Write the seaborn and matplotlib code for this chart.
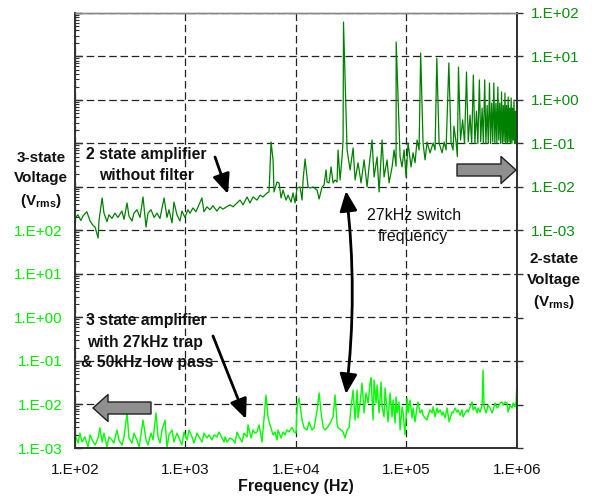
import matplotlib
matplotlib.use("Agg")
import matplotlib.pyplot as plt
import seaborn as sns
import numpy as np
from matplotlib.ticker import FixedLocator, FuncFormatter, LogLocator, NullLocator, NullFormatter
from matplotlib.patches import FancyArrowPatch

# ---------------- data ----------------
# 2-state amplifier without filter (right axis)
freq_2state = [100, 106, 113, 118, 128, 137, 146, 152, 162, 165, 176, 183, 195, 203, 216, 230, 245, 266, 278, 296,
               308, 328, 342, 364, 388, 413, 440, 458, 488, 520, 553, 588, 641, 681, 710, 756, 787, 838, 892, 930,
               990, 1053, 1099, 1170, 1245, 1326, 1411, 1472, 1566, 1667, 1775, 1928, 2052, 2184, 2536, 2700, 2934,
               3123, 3324, 3613, 3846, 4094, 4452, 4739, 5045, 5484, 5718, 5962, 6216, 6346, 6756, 7044, 7345, 7658,
               8152, 8499, 9047, 9432, 9835, 10254, 10920, 11386, 11626, 12120, 12637, 12903, 13450, 14319, 15566,
               16229, 17276, 18012, 18778, 19173, 19988, 20841, 21728, 22650, 23615, 24113, 25150, 26221, 26775,
               27000, 29100, 31000, 33000, 34400, 36600, 38950, 41500, 44150, 46000, 49000, 51100, 54400, 56700,
               60400, 62940, 67000, 69900, 74400, 77500, 80840, 81000, 87900, 91600, 95500, 99600, 103800, 110400,
               115200, 120100, 125200, 130600, 135000, 141900, 148000, 154300, 164300, 174900, 182300, 189000,
               198200, 211000, 220000, 229300, 243000, 254500, 265400, 270000, 282500, 290000, 297000, 310000,
               324000, 337000, 351000, 364000, 378000, 391000, 405000, 418000, 432000, 445000, 459000, 472000,
               486000, 499000, 513000, 526000, 540000, 553000, 567000, 580000, 594000, 607000, 621000, 634000,
               648000, 661000, 675000, 688000, 702000, 715000, 729000, 742000, 756000, 769000, 783000, 796000,
               810000, 823000, 837000, 850000, 864000, 877000, 891000, 904000, 918000, 931000, 945000, 958000,
               972000, 985000, 1000000]
volt_2state = [0.0019, 0.0023, 0.0017, 0.00215, 0.0027, 0.00165, 0.0013, 0.0012, 0.00067, 0.0017, 0.0056, 0.0025,
               0.0016, 0.0023, 0.0019, 0.0025, 0.0020, 0.0028, 0.0018, 0.0043, 0.00215, 0.00165, 0.0025, 0.0030,
               0.0020, 0.0059, 0.0012, 0.0025, 0.0030, 0.0020, 0.0025, 0.0019, 0.0056, 0.0020, 0.0030, 0.0015,
               0.0045, 0.0023, 0.00165, 0.0028, 0.0020, 0.0030, 0.0025, 0.0033, 0.0027, 0.0039, 0.0056, 0.0027,
               0.0035, 0.0030, 0.0037, 0.0028, 0.0035, 0.0031, 0.0039, 0.0035, 0.0043, 0.0050, 0.0039, 0.0059,
               0.0043, 0.0059, 0.0050, 0.0065, 0.0059, 0.0073, 0.0077, 0.108, 0.042, 0.0077, 0.013, 0.0124, 0.0056,
               0.0085, 0.0050, 0.0065, 0.0045, 0.0073, 0.0043, 0.0095, 0.0100, 0.0050, 0.0145, 0.044, 0.016, 0.0100,
               0.0095, 0.0100, 0.0085, 0.0053, 0.0100, 0.0111, 0.0246, 0.013, 0.0124, 0.029, 0.0124, 0.0145, 0.013,
               0.071, 0.0145, 0.049, 0.12, 62.0, 0.071, 0.0246, 0.079, 0.0145, 0.036, 0.0124, 0.042, 0.010, 0.029,
               0.12, 0.017, 0.049, 0.0077, 0.12, 0.017, 0.042, 0.0124, 0.029, 0.071, 0.030, 21.5, 0.049, 0.029,
               0.071, 0.017, 0.103, 0.029, 0.061, 0.036, 0.12, 0.071, 12.0, 0.103, 0.042, 0.108, 0.061, 0.103,
               0.071, 9.2, 0.103, 0.061, 0.108, 0.071, 7.1, 0.103, 0.071, 0.25, 0.108, 0.05, 5.7, 0.12, 0.35, 0.10,
               4.4, 0.11, 0.45, 0.10, 3.76, 0.10, 0.55, 0.10, 2.9, 0.11, 0.65, 0.10, 2.9, 0.10, 0.75, 0.10, 2.46,
               0.10, 0.85, 0.11, 2.46, 0.10, 0.85, 0.10, 1.99, 0.12, 0.85, 0.10, 1.53, 0.10, 0.75, 0.11, 1.45, 0.10,
               0.75, 0.10, 1.17, 0.11, 0.65, 0.10, 1.11, 0.10, 0.65, 0.12, 1.0, 0.10, 0.55, 0.10, 0.85]

# 3-state amplifier with 27kHz trap & 50kHz low pass (left axis)
freq_3state = [100, 106.5, 111, 115.7, 123, 131, 137, 143, 152, 162, 168, 176, 183, 195, 203, 216, 225, 240, 250,
               266, 278, 296, 308, 328, 342, 364, 380, 396, 413, 440, 458, 488, 509, 542, 565, 589, 614, 654, 681,
               710, 756, 787, 838, 874, 930, 970, 1033, 1077, 1147, 1196, 1273, 1327, 1413, 1473, 1569, 1636, 1741,
               1815, 1933, 2015, 2146, 2237, 2284, 2381, 2535, 2700, 2814, 2934, 3059, 3257, 3396, 3613, 3690, 3927,
               4094, 4270, 4452, 4641, 4941, 5045, 5370, 5598, 5718, 5962, 6216, 6480, 6756, 6898, 7345, 7658,
               7983, 8323, 8677, 9240, 9633, 10040, 10260, 10690, 11390, 11870, 12640, 13180, 14040, 14630,
               15580, 16250, 16940, 17660, 18390, 19170, 20410, 21740, 22650, 23620, 24110, 25680, 26770, 27910,
               29100, 30340, 31630, 32970, 34380, 35840, 36600, 38150, 39770, 41470, 43230, 45070, 47000, 47990,
               50030, 51090, 53260, 54380, 56700, 59120, 60370, 62940, 64270, 67000, 68420, 71330, 74370, 75940,
               79170, 80840, 82550, 86070, 87880, 91630, 93560, 97520, 101700, 103800, 108200, 112800, 115200,
               120100, 125200, 127800, 133400, 139000, 142000, 148000, 154300, 157600, 164300, 171300, 174900,
               182300, 190100, 194100, 202400, 211000, 215400, 224600, 234200, 244100, 259900, 265400, 276700,
               288500, 294600, 307100, 320200, 327000, 340900, 355400, 362900, 378400, 394500, 402900, 420000,
               437900, 447100, 466100, 486000, 496200, 506700, 528300, 550800, 574100, 598600, 611200, 637300,
               664400, 678400, 707300, 737400, 752900, 785100, 818500, 835700, 871300, 908500, 927600, 967200,
               987600, 1000000]
volt_3state = [0.0020, 0.0013, 0.0022, 0.00137, 0.0018, 0.00105, 0.0020, 0.00153, 0.00117, 0.0017, 0.0029, 0.00137,
               0.0022, 0.00105, 0.0018, 0.00153, 0.0013, 0.0026, 0.00153, 0.00117, 0.0018, 0.0064, 0.0017, 0.0013,
               0.0022, 0.00153, 0.00105, 0.0020, 0.0044, 0.00153, 0.00117, 0.0022, 0.00153, 0.0064, 0.0018, 0.0013,
               0.0026, 0.0044, 0.0010, 0.0020, 0.0026, 0.00137, 0.0022, 0.0017, 0.00117, 0.00233, 0.00153, 0.0026,
               0.0018, 0.0013, 0.0022, 0.0018, 0.00137, 0.0022, 0.0017, 0.0020, 0.00153, 0.0020, 0.0018, 0.00233,
               0.0017, 0.00137, 0.0018, 0.00137, 0.0017, 0.00153, 0.0013, 0.00233, 0.0018, 0.00137, 0.0022, 0.0018,
               0.0034, 0.0017, 0.0026, 0.0022, 0.00233, 0.0034, 0.00137, 0.0026, 0.0165, 0.0052, 0.0040, 0.0029,
               0.0020, 0.00233, 0.00153, 0.0026, 0.0017, 0.00233, 0.0020, 0.0026, 0.00233, 0.0030, 0.00233, 0.0022,
               0.0088, 0.0141, 0.0044, 0.0029, 0.0026, 0.0040, 0.0026, 0.0029, 0.0075, 0.0184, 0.0064, 0.0030,
               0.0026, 0.0029, 0.0037, 0.0052, 0.0165, 0.0037, 0.0029, 0.0026, 0.00233, 0.0017, 0.0026, 0.0029,
               0.0088, 0.0215, 0.0044, 0.0215, 0.0049, 0.0108, 0.031, 0.0064, 0.0184, 0.0108, 0.031, 0.041, 0.0044,
               0.0366, 0.0108, 0.028, 0.0064, 0.0329, 0.0088, 0.0052, 0.024, 0.0075, 0.0040, 0.0184, 0.0052, 0.0127,
               0.00376, 0.0149, 0.0064, 0.0114, 0.0026, 0.0088, 0.0064, 0.0020, 0.0141, 0.0064, 0.0127, 0.0049,
               0.0083, 0.0040, 0.0088, 0.0114, 0.0064, 0.0075, 0.0057, 0.0049, 0.0044, 0.0057, 0.0075, 0.0064,
               0.0088, 0.0052, 0.0083, 0.0064, 0.0075, 0.0057, 0.0067, 0.0049, 0.0083, 0.0040, 0.0067, 0.0064,
               0.0083, 0.0067, 0.0075, 0.0057, 0.0075, 0.0052, 0.0064, 0.0075, 0.0067, 0.0088, 0.0114, 0.0075,
               0.0088, 0.0064, 0.0083, 0.0067, 0.0097, 0.062, 0.0088, 0.0064, 0.0097, 0.0083, 0.0064, 0.0075,
               0.0108, 0.0083, 0.0088, 0.0108, 0.0114, 0.0097, 0.0114, 0.0108, 0.0067, 0.0097, 0.0083, 0.0108,
               0.0088, 0.0114, 0.024]

x_ticks = [1e2, 1e3, 1e4, 1e5, 1e6]
left_ticks = [10.0 ** e for e in range(-3, 8)]
left_labelled_max = 1e2
right_ticks = [10.0 ** e for e in range(-8, 3)]
right_labelled_min = 1e-3

# ---------------- styling ----------------
sns.set_style("white")
plt.rcParams["font.family"] = ["Liberation Sans", "DejaVu Sans"]
plt.rcParams["mathtext.fontset"] = "custom"
plt.rcParams["mathtext.rm"] = "Liberation Sans"
plt.rcParams["mathtext.bf"] = "Liberation Sans:bold"

W, H = 592, 496
fig = plt.figure(figsize=(W / 100, H / 100), dpi=100)
L, R, T, B = 75, 516.7, 13, 448
ax = fig.add_axes([L / W, 1 - B / H, (R - L) / W, (B - T) / H])


def P(x, y):
    return (x / W, 1 - y / H)


def sci(v, pos=None):
    e = int(round(np.log10(v)))
    return f"1.E{e:+03d}"


ax.set_xscale("log")
ax.set_yscale("log")
sns.lineplot(x=freq_3state, y=volt_3state, ax=ax, color="#00ff00", linewidth=1.0,
             estimator=None, sort=False, legend=False)
ax.set_xlim(1e2, 1e6)
ax.set_ylim(1e-3, 1e7)
ax.set_xlabel("")
ax.set_ylabel("")

ax2 = ax.twinx()
ax2.set_yscale("log")
sns.lineplot(x=freq_2state, y=volt_2state, ax=ax2, color="#008000", linewidth=0.9,
             estimator=None, sort=False, legend=False)
ax2.set_ylim(1e-8, 1e2)
ax2.set_xlim(1e2, 1e6)
ax2.set_ylabel("")

# ticks
ax.xaxis.set_major_locator(FixedLocator(x_ticks))
ax.xaxis.set_major_formatter(FuncFormatter(sci))
ax.xaxis.set_minor_locator(LogLocator(base=10, subs=np.arange(2, 10)))
ax.xaxis.set_minor_formatter(NullFormatter())

ax.yaxis.set_major_locator(FixedLocator(left_ticks))
ax.yaxis.set_major_formatter(FuncFormatter(lambda v, p: sci(v) if v <= left_labelled_max * 1.01 else ""))
ax.yaxis.set_minor_locator(LogLocator(base=10, subs=np.arange(2, 10), numticks=20))
ax.yaxis.set_minor_formatter(NullFormatter())

ax2.yaxis.set_major_locator(FixedLocator(right_ticks))
ax2.yaxis.set_major_formatter(FuncFormatter(lambda v, p: sci(v) if v >= right_labelled_min * 0.99 else ""))
ax2.yaxis.set_minor_locator(NullLocator())

ax.tick_params(axis="y", which="major", direction="in", length=5, width=1, color="#333333",
               labelcolor="#00ee00", labelsize=11, pad=9)
ax.tick_params(axis="y", which="minor", direction="in", length=3, width=0.8, color="#333333")
ax.tick_params(axis="x", which="major", direction="in", length=5, width=1, color="#333333",
               labelcolor="#111111", labelsize=11, pad=11)
ax.tick_params(axis="x", which="minor", direction="in", length=4, width=0.8, color="#333333")
ax2.tick_params(axis="y", which="major", direction="out", length=4.5, width=1, color="#333333",
                labelcolor="#0a8f0a", labelsize=11, pad=6)

# grid
ax.set_axisbelow(True)
ax.grid(True, which="major", axis="both", linestyle=(0, (6, 3)), color="#222222", linewidth=0.9)
ax2.grid(False)

for a in (ax, ax2):
    for s in ("left", "bottom", "right"):
        a.spines[s].set_color("#333333")
        a.spines[s].set_linewidth(1.3)
    a.spines["top"].set_color("#8a8a8a")
    a.spines["top"].set_linewidth(1.0)

# axis titles
bold = dict(fontsize=11, fontweight="bold", color="#111111", ha="center", va="center")
fig.text(*P(41, 158), "3-state", **bold)
fig.text(*P(41, 178), "Voltage", **bold)
fig.text(*P(41, 201), r"(V$_{\mathbf{rms}}$)", **bold)
fig.text(*P(554, 259), "2-state", **bold)
fig.text(*P(554, 280), "Voltage", **bold)
fig.text(*P(554, 302), r"(V$_{\mathbf{rms}}$)", **bold)
fig.text(*P(296, 487), "Frequency (Hz)", fontsize=11.5, fontweight="bold", color="#111111",
         ha="center", va="center")

# annotations
ann = dict(fontsize=11.3, fontweight="bold", color="#111111", ha="center", va="center")
fig.text(*P(146.5, 155), "2 state amplifier", **ann)
fig.text(*P(146.5, 176), "without filter", **ann)
fig.text(*P(146.5, 321), "3 state amplifier", **ann)
fig.text(*P(145, 342), "with 27kHz trap", **ann)
fig.text(*P(147, 362), "& 50kHz low pass", **ann)
fig.text(*P(414, 216), "27kHz switch", fontsize=11.5, color="#111111", ha="center", va="center")
fig.text(*P(413, 236), "frequency", fontsize=11.5, color="#111111", ha="center", va="center")

arrow_kw = dict(arrowstyle="-|>,head_length=0.8,head_width=0.35", color="black", lw=2,
                mutation_scale=15, shrinkA=0, shrinkB=0)
ax.annotate("", xy=P(228, 194), xycoords="figure fraction", xytext=P(215, 157),
            textcoords="figure fraction", arrowprops=arrow_kw)
ax.annotate("", xy=P(246, 419), xycoords="figure fraction", xytext=P(213, 336),
            textcoords="figure fraction", arrowprops=arrow_kw)
ax.annotate("", xy=P(346, 191), xycoords="figure fraction", xytext=P(346, 394),
            textcoords="figure fraction",
            arrowprops=dict(arrowstyle="<|-|>,head_length=0.8,head_width=0.35", color="black", lw=2,
                            mutation_scale=15, shrinkA=0, shrinkB=0,
                            connectionstyle="arc3,rad=0.06"))

# grey block arrows
for tail, tip in (((151, 408), (93, 408)), ((457, 170), (516, 170))):
    fa = FancyArrowPatch(P(*tail), P(*tip), transform=fig.transFigure,
                         arrowstyle="simple,head_length=1.5,head_width=2.7,tail_width=1.2",
                         mutation_scale=7.2, facecolor="#8f8f8f", edgecolor="#202020",
                         linewidth=1.0, shrinkA=0, shrinkB=0, zorder=5)
    fig.add_artist(fa)

fig.savefig("out.png", dpi=100)
